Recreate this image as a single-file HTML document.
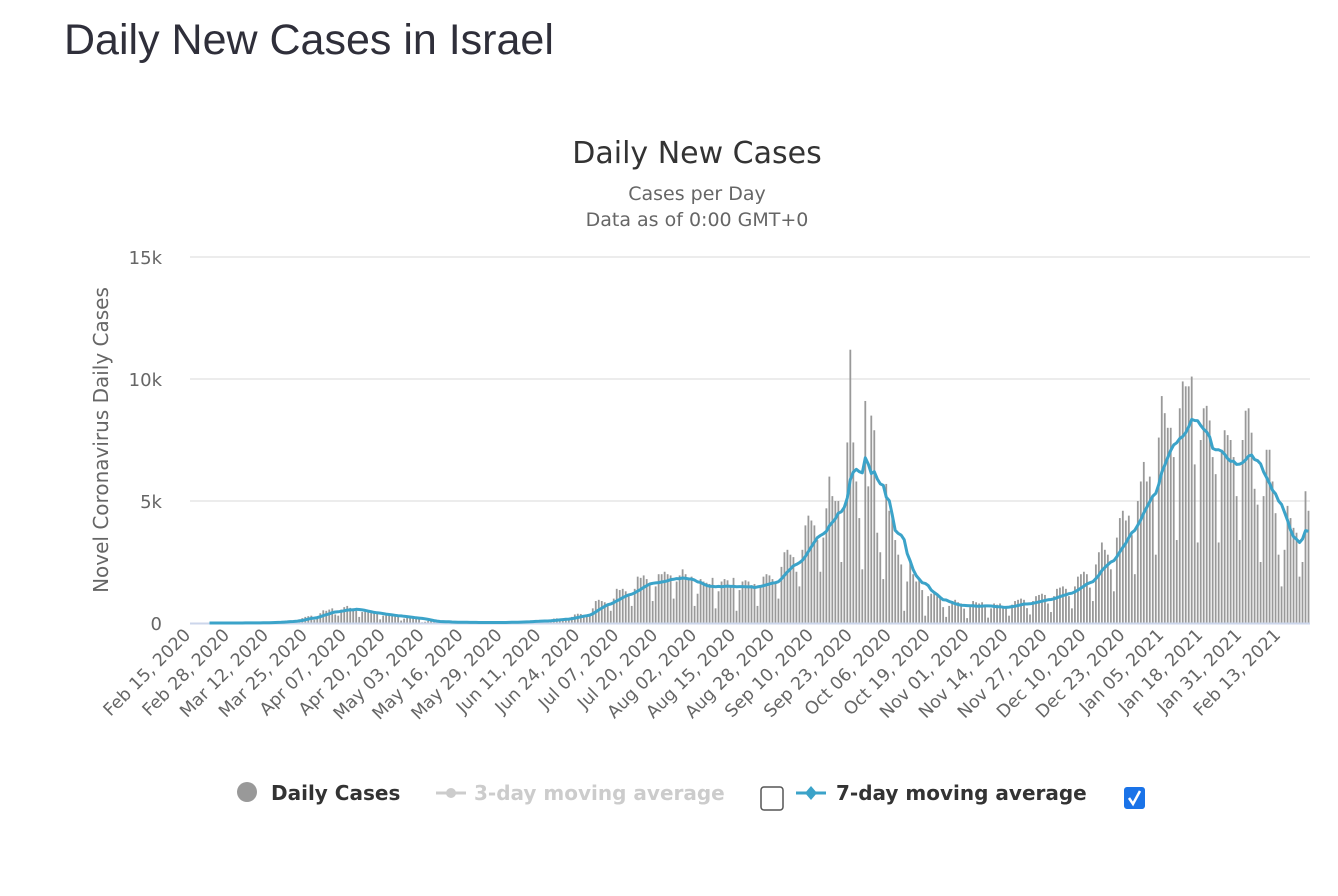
<!DOCTYPE html>
<html><head><meta charset="utf-8">
<style>
html,body{margin:0;padding:0;background:#fff;width:1338px;height:896px;overflow:hidden}
#title{position:absolute;left:64px;top:16px;font:43px "Liberation Sans",sans-serif;color:#2f2f3a;margin:0;font-weight:normal}
svg{position:absolute;left:0;top:0}
</style></head><body>
<h1 id="title">Daily New Cases in Israel</h1>
<svg id="chart" width="1338" height="896" font-family="DejaVu Sans, sans-serif"></svg>
<script>
const startDate = [2020, 2, 15];
const tickEvery = 13;
const yTicks = [0, 5000, 10000, 15000];
const yTickLabels = ["0", "5k", "10k", "15k"];
const dailyCases = [
0,0,0,0,0,0,0, 0,0,0,1,2,1,1, 1,2,3,4,3,5,3, 5,10,12,18,20,25,15,
30,45,60,70,80,90,50, 90,150,200,250,280,300,130, 250,400,520,500,550,600,350,
300,550,650,700,620,600,500, 250,450,500,480,450,420,390, 150,300,350,380,330,320,270,
100,180,250,260,240,200,170, 30,50,80,90,70,60,40, 10,30,40,35,30,30,35,
5,20,25,25,20,25,20, 5,15,25,30,25,20,20, 15,30,50,55,50,45,35,
40,70,100,110,90,90,60, 60,130,180,190,180,170,140, 120,250,350,380,370,330,300,
300,600,900,950,900,850,750, 500,1000,1400,1350,1400,1300,1100, 700,1400,1900,1850,1950,1800,1600,
900,1500,2000,2000,2100,2000,1950, 1000,1700,1950,2200,2000,1850,1900, 700,1200,1800,1700,1650,1600,1850,
600,1300,1700,1800,1750,1500,1850, 500,1350,1700,1750,1700,1550,1600, 700,1500,1900,2000,1950,1800,1700,
1000,2300,2900,3000,2800,2700,2100, 1500,3000,4000,4400,4200,4000,3400, 2100,3500,4700,6000,5200,5000,5000,
2500,4800,7400,11200,7400,5800,4300, 2200,9100,5600,8500,7900,3700,2900, 1800,5700,4600,4500,3400,2800,2400,
500,1700,2500,2000,1700,1800,1350, 300,1100,1200,1300,1100,1000,650, 250,700,900,950,850,800,590,
200,650,900,850,800,850,650, 220,600,800,750,800,700,610, 300,750,900,950,1000,950,610,
350,900,1100,1150,1200,1150,800, 450,1100,1400,1450,1500,1400,1100, 600,1500,1900,2000,2100,2000,1450,
900,2400,2900,3300,3000,2800,2200, 1300,3500,4300,4600,4200,4400,3600, 2000,5000,5800,6600,5800,6000,5200,
2800,7600,9300,8600,8000,8000,6800, 3400,8800,9900,9700,9700,10100,6500, 3300,7500,8800,8900,8300,6800,6100,
3300,7100,7900,7700,7500,6800,5200, 3400,7500,8700,8800,7800,5500,4850, 2500,5200,7100,7100,5800,4500,2800,
1500,3000,4800,4300,3900,3700,1900, 2500,5400,4600
];
const maWindow = 7;

const svg = document.getElementById('chart');
const NS = 'http://www.w3.org/2000/svg';
const X0 = 190, X1 = 1310, Y0 = 623, Y1 = 257, YMAX = 15000;
const N = dailyCases.length;
const bw = (X1 - X0) / N;
const xPos = i => X0 + (i + 0.5) * bw;
const yPos = v => Y0 - (v / YMAX) * (Y0 - Y1);
function mk(tag, attrs, parent) {
  const e = document.createElementNS(NS, tag);
  for (const k in attrs) e.setAttribute(k, attrs[k]);
  (parent || svg).appendChild(e);
  return e;
}
function txt(s, attrs, parent) { const t = mk('text', attrs, parent); t.textContent = s; return t; }

let t = txt('Daily New Cases', {x: 697, y: 163, 'text-anchor': 'middle', 'font-size': 30, fill: '#333'});


t = txt('Cases per Day', {x: 697, y: 200, 'text-anchor': 'middle', 'font-size': 19, fill: '#666'});


t = txt('Data as of 0:00 GMT+0', {x: 697, y: 226, 'text-anchor': 'middle', 'font-size': 19, fill: '#666'});



yTicks.forEach((v, k) => {
  const y = yPos(v);
  if (v > 0) {
    const g = mk('line', {x1: X0, x2: X1, y1: y, y2: y, stroke: '#e6e6e6', 'stroke-width': 1.5});
    
    
  }
  const l = txt(yTickLabels[k], {x: 162, y: y + 7, 'text-anchor': 'end', 'font-size': 18, fill: '#666'});
  
  
});
t = txt('Novel Coronavirus Daily Cases', {x: 0, y: 0, 'text-anchor': 'middle', 'font-size': 20, fill: '#666', transform: 'translate(108,440) rotate(-90)'});



const barsG = mk('g', {});


dailyCases.forEach((v, i) => {
  if (v <= 0) return;
  const b = mk('rect', {x: xPos(i) - 0.9, y: yPos(v), width: 1.8, height: Y0 - yPos(v), fill: '#999'}, barsG);
  
  
});

const base = mk('line', {x1: X0, x2: X1, y1: Y0 + 0.5, y2: Y0 + 0.5, stroke: '#ccd6eb', 'stroke-width': 2});



let pts = [];
for (let i = maWindow - 1; i < N; i++) {
  let s = 0;
  for (let j = i - maWindow + 1; j <= i; j++) s += dailyCases[j];
  pts.push(xPos(i).toFixed(1) + ',' + yPos(s / maWindow).toFixed(1));
}
const ln = mk('polyline', {points: pts.join(' '), fill: 'none', stroke: '#3ba3c9', 'stroke-width': 3, 'stroke-linejoin': 'round'});



const months = ['Jan','Feb','Mar','Apr','May','Jun','Jul','Aug','Sep','Oct','Nov','Dec'];
for (let i = 0; i < N; i += tickEvery) {
  const d = new Date(Date.UTC(startDate[0], startDate[1] - 1, startDate[2] + i));
  const s = months[d.getUTCMonth()] + ' ' + String(d.getUTCDate()).padStart(2, '0') + ', ' + d.getUTCFullYear();
  const x = xPos(i), y = 636;
  const l = txt(s, {x: x, y: y, 'text-anchor': 'end', 'font-size': 17.5, fill: '#666', transform: `rotate(-45 ${x} ${y})`});
  
  
}

const lg = mk('g', {});


const e1 = mk('g', {}, lg);


mk('circle', {cx: 247, cy: 792, r: 10, fill: '#999'}, e1);
txt('Daily Cases', {x: 271, y: 800, 'font-size': 20, 'font-weight': 'bold', fill: '#333'}, e1);
const e2 = mk('g', {}, lg);


mk('line', {x1: 436, x2: 466, y1: 793, y2: 793, stroke: '#ccc', 'stroke-width': 3}, e2);
mk('circle', {cx: 451, cy: 793, r: 5, fill: '#ccc'}, e2);
txt('3-day moving average', {x: 474, y: 800, 'font-size': 20, 'font-weight': 'bold', fill: '#ccc'}, e2);
const cb1 = mk('rect', {x: 761, y: 787, width: 22, height: 23, rx: 3, fill: '#fff', stroke: '#555', 'stroke-width': 1.5}, lg);


const e3 = mk('g', {}, lg);


mk('line', {x1: 796, x2: 826, y1: 793, y2: 793, stroke: '#3ba3c9', 'stroke-width': 3}, e3);
mk('path', {d: 'M811 786 L817 793 L811 800 L805 793 Z', fill: '#3ba3c9'}, e3);
txt('7-day moving average', {x: 836, y: 800, 'font-size': 20, 'font-weight': 'bold', fill: '#333'}, e3);
const cb2 = mk('g', {}, lg);


mk('rect', {x: 1124, y: 787, width: 21, height: 22, rx: 3, fill: '#1a73e8'}, cb2);
mk('path', {d: 'M1129 798 L1133 804 L1140 791', fill: 'none', stroke: '#fff', 'stroke-width': 2.5}, cb2);
</script>
</body></html>
